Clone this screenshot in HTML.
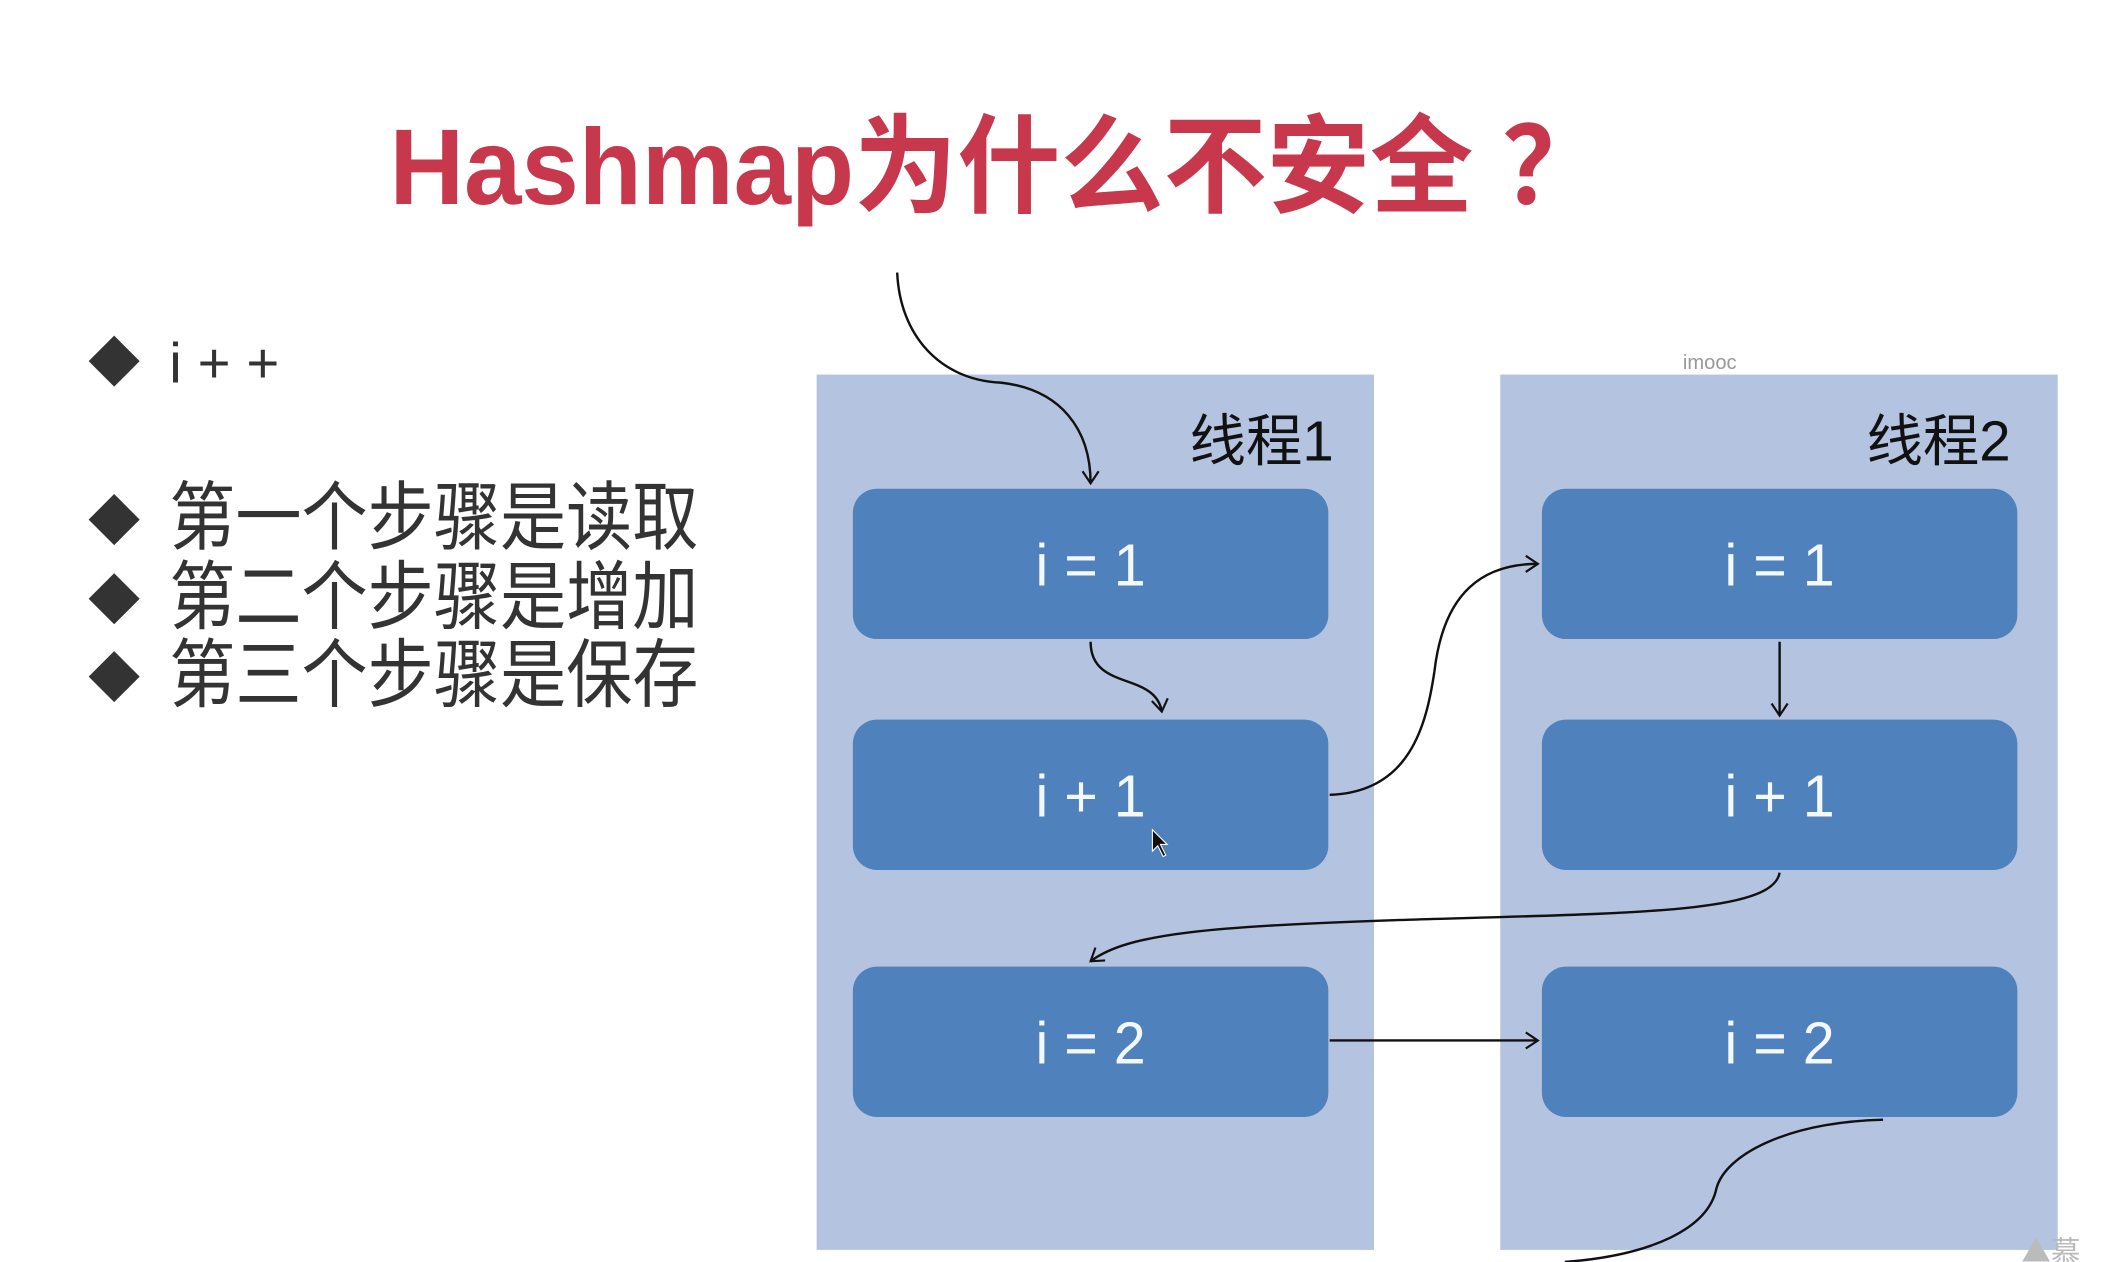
<!DOCTYPE html>
<html><head><meta charset="utf-8"><style>
html,body{margin:0;padding:0;background:#fff;width:2106px;height:1262px;overflow:hidden}
svg{display:block}
</style></head><body>
<svg width="2106" height="1262" viewBox="0 0 1568 940" preserveAspectRatio="none" xmlns="http://www.w3.org/2000/svg">
<defs>
<marker id="a" markerWidth="14" markerHeight="14" refX="10" refY="7" orient="auto" markerUnits="userSpaceOnUse">
<path d="M1,1 L10,7 L1,13" fill="none" stroke="#111" stroke-width="1.6"/>
</marker>
</defs>
<rect width="1568" height="940" fill="#fff"/>
<text x="290" y="152" font-family="'Liberation Sans','Noto Sans CJK SC',sans-serif" font-weight="bold" font-size="80" fill="#c8384c" textLength="905" lengthAdjust="spacingAndGlyphs">Hashmap为什么不安全 ？</text>

<g fill="#333">
<path d="M85,250 L104,269 L85,288 L66,269Z"/>
<path d="M85,368 L104,387 L85,406 L66,387Z"/>
<path d="M85,427 L104,446 L85,465 L66,446Z"/>
<path d="M85,485 L104,504 L85,523 L66,504Z"/>
</g>
<g font-family="'Liberation Sans','Noto Sans CJK SC',sans-serif" fill="#333">
<text x="126" y="285" font-size="42" textLength="82" lengthAdjust="spacing">i++</text>
<text x="126" y="405" font-size="56" textLength="394" lengthAdjust="spacingAndGlyphs">第一个步骤是读取</text>
<text x="126" y="464" font-size="56" textLength="394" lengthAdjust="spacingAndGlyphs">第二个步骤是增加</text>
<text x="126" y="522" font-size="56" textLength="394" lengthAdjust="spacingAndGlyphs">第三个步骤是保存</text>
</g>

<rect x="608" y="279" width="415" height="652" fill="#b4c3df"/>
<rect x="1117" y="279" width="415" height="652" fill="#b4c3df"/>
<text x="1273" y="275" font-family="'Liberation Sans',sans-serif" font-size="15" fill="#999" text-anchor="middle">imooc</text>
<g font-family="'Liberation Sans','Noto Sans CJK SC',sans-serif" font-size="42" fill="#111" text-anchor="end">
<text x="993" y="343">线程1</text>
<text x="1497" y="343">线程2</text>
</g>
<g fill="#4f81bd">
<rect x="635" y="364" width="354" height="112" rx="18"/>
<rect x="635" y="536" width="354" height="112" rx="18"/>
<rect x="635" y="720" width="354" height="112" rx="18"/>
<rect x="1148" y="364" width="354" height="112" rx="18"/>
<rect x="1148" y="536" width="354" height="112" rx="18"/>
<rect x="1148" y="720" width="354" height="112" rx="18"/>
</g>
<g font-family="'Liberation Sans',sans-serif" font-size="44" fill="#f4f8ff" text-anchor="middle">
<text x="812" y="436" textLength="82" lengthAdjust="spacingAndGlyphs">i = 1</text>
<text x="812" y="608" textLength="82" lengthAdjust="spacingAndGlyphs">i + 1</text>
<text x="812" y="792" textLength="82" lengthAdjust="spacingAndGlyphs">i = 2</text>
<text x="1325" y="436" textLength="82" lengthAdjust="spacingAndGlyphs">i = 1</text>
<text x="1325" y="608" textLength="82" lengthAdjust="spacingAndGlyphs">i + 1</text>
<text x="1325" y="792" textLength="82" lengthAdjust="spacingAndGlyphs">i = 2</text>
</g>

<g fill="none" stroke="#111" stroke-width="1.8">
<path d="M668,203 C670,250 700,283 745,285 C790,290 812,320 812,360" marker-end="url(#a)"/>
<path d="M812,478 C812,515 860,500 865,530" marker-end="url(#a)"/>
<path d="M990,592 C1050,590 1062,540 1068,500 C1075,440 1105,420 1145,420" marker-end="url(#a)"/>
<path d="M1325,478 L1325,533" marker-end="url(#a)"/>
<path d="M1325,650 C1320,680 1220,680 1050,685 C900,690 840,695 812,716" marker-end="url(#a)"/>
<path d="M990,775 L1145,775" marker-end="url(#a)"/>
<path d="M1402,834 C1330,836 1285,860 1278,885 C1272,915 1230,935 1165,940"/>
</g>
<path d="M858,618 L858,634 L862,630 L866,638 L868,637 L864,629 L869,629Z" fill="#111" stroke="#fff" stroke-width="0.8"/>
<text x="1505" y="940" font-family="'Noto Sans CJK SC',sans-serif" font-size="22" fill="#bbb">▲慕</text>
</svg>
</body></html>
